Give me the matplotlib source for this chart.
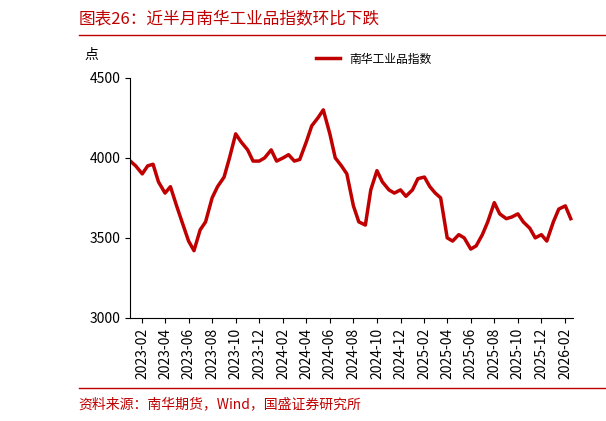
import matplotlib
matplotlib.use("Agg")
import matplotlib.pyplot as plt
import matplotlib.dates as mdates
import pandas as pd

plt.rcParams['font.family'] = ['Noto Sans CJK SC', 'DejaVu Sans']

red = "#C00000"

# half-monthly readings of the Nanhua industrial index
values = [3980, 3950,
          3900, 3950, 3960, 3850, 3780, 3820, 3700, 3600, 3480, 3420,
          3550, 3600, 3750, 3820, 3880, 4000, 4150, 4100, 4050, 3980, 3980, 4000,
          4050, 3980, 4000, 4020, 3980, 3990, 4100, 4200, 4250, 4300, 4150, 4000,
          3950, 3900, 3700, 3600, 3580, 3800, 3920, 3850, 3800, 3780, 3800, 3760,
          3800, 3870, 3880, 3820, 3780, 3750, 3500, 3480, 3520, 3500, 3430, 3450,
          3520, 3600, 3720, 3650, 3620, 3630, 3650, 3600, 3560, 3500, 3520, 3480,
          3600, 3680, 3700, 3620]
dates = pd.date_range("2023-01-01", periods=len(values), freq="SMS")
series_name = "南华工业品指数"
title = "图表26：近半月南华工业品指数环比下跌"
source = "资料来源：南华期货，Wind，国盛证券研究所"

fig = plt.figure(figsize=(6.06, 4.21), dpi=100)
ax = fig.add_axes([0.215, 0.245, 0.73, 0.57])
ax.plot(dates, values, color=red, lw=2.5, label=series_name)
ax.set_ylim(3000, 4500)
ax.set_yticks([3000, 3500, 4000, 4500])
ax.set_xlim(pd.Timestamp("2023-01-01"), pd.Timestamp("2026-02-20"))
ax.xaxis.set_major_locator(mdates.MonthLocator(bymonth=[2, 4, 6, 8, 10, 12]))
ax.xaxis.set_major_formatter(mdates.DateFormatter("%Y-%m"))
plt.setp(ax.get_xticklabels(), rotation=90)
ax.tick_params(labelsize=10, direction="out")
for s in ["top", "right"]:
    ax.spines[s].set_visible(False)
ax.legend(loc="upper center", bbox_to_anchor=(0.55, 1.15), frameon=False, fontsize=8.5)
fig.text(0.14, 0.86, "点", fontsize=10)
fig.text(0.13, 0.955, title, color=red, fontsize=12, style="italic", va="center")
fig.add_artist(plt.Line2D([0.13, 1.0], [0.918, 0.918], color=red, lw=1))
fig.add_artist(plt.Line2D([0.13, 1.0], [0.078, 0.078], color=red, lw=1))
fig.text(0.13, 0.04, source, color=red, fontsize=10, style="italic", va="center")
fig.savefig("out.png", dpi=100)
